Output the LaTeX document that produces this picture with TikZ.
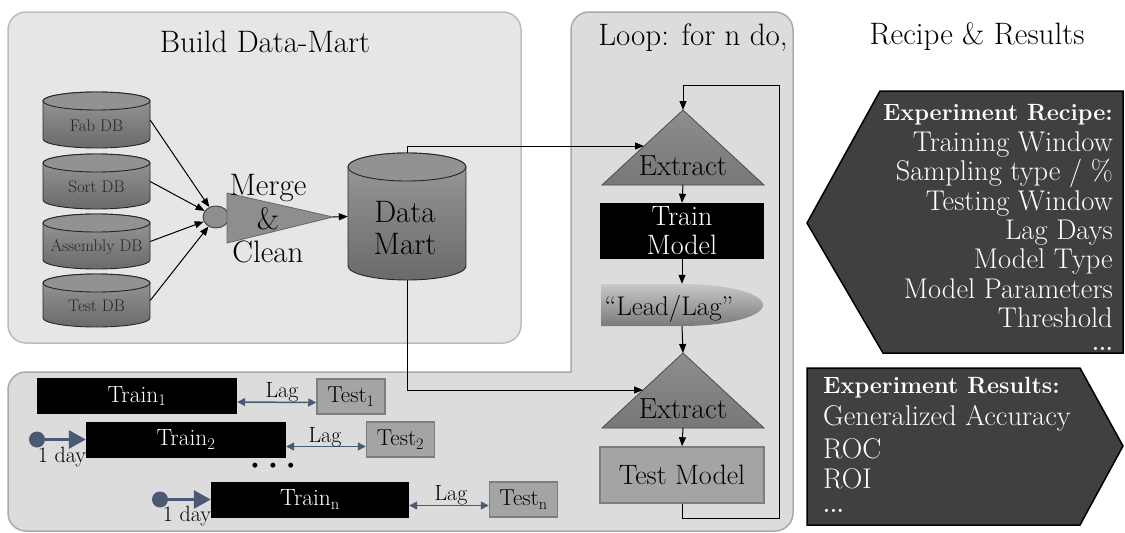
\documentclass[tikz,border=0pt]{standalone}
\usetikzlibrary{arrows.meta,calc,shapes.geometric}

\definecolor{panelA}{HTML}{E6E6E6}
\definecolor{panelAedge}{HTML}{BDBDBD}
\definecolor{panelB}{HTML}{DCDCDC}
\definecolor{panelBedge}{HTML}{AAAAAA}
\definecolor{slate}{HTML}{4B5A74}
\definecolor{darkbox}{HTML}{404040}
\definecolor{testgray}{HTML}{A4A4A4}
\definecolor{testedge}{HTML}{7E7E7E}
\definecolor{cylA}{HTML}{9A9A9A}
\definecolor{cylB}{HTML}{6A6A6A}
\definecolor{cylTop}{HTML}{929292}
\definecolor{triA}{HTML}{8E8E8E}
\definecolor{triB}{HTML}{777777}
\definecolor{leadA}{HTML}{C8C8C8}
\definecolor{leadB}{HTML}{7A7A7A}

\newcommand{\fsz}[2]{\fontsize{#1}{#2}\selectfont}
% database cylinder: name, centre x, top y, bottom y, half width, end radius
\newcommand{\dbcyl}[6]{%
  \path[cylbody] (#2-#5,#3+#6) -- (#2-#5,#4-#6)
    arc[start angle=180,end angle=0,x radius=#5,y radius=#6]
    -- (#2+#5,#3+#6)
    arc[start angle=0,end angle=-180,x radius=#5,y radius=#6] -- cycle;
  \path[cyltop] (#2,#3+#6) ellipse[x radius=#5,y radius=#6];
  \node[inner sep=0,minimum width=2*#5,minimum height=#4-#3] (#1) at (#2,{(#3+#4)/2}) {};
}

\begin{document}
\begin{tikzpicture}[x=1pt,y=-1pt,
  arr/.style={draw=black,line width=1pt,-{Triangle[length=9pt,width=7pt]}},
  cylbody/.style={draw=black!85,line width=0.9pt,top color=cylA,bottom color=cylB},
  cyltop/.style={draw=black!85,line width=0.9pt,fill=cylTop},
  dblabel/.style={inner sep=0,font=\fsz{16.8}{19},text=black!85},
  title/.style={inner sep=0,anchor=base,font=\fsz{31}{35}},
  extri/.style={draw=black!70,line width=0.8pt,top color=triA,bottom color=triB},
  extext/.style={inner sep=0,anchor=base,font=\fsz{29}{32}},
  trainbox/.style={fill=black,text=white,inner sep=0,minimum height=36,font=\fsz{23.5}{26}},
  testbox/.style={fill=testgray,draw=testedge,line width=1.5pt,inner sep=0,
    minimum width=68,minimum height=35,font=\fsz{23}{25}},
  lagarr/.style={draw=slate,line width=1.5pt,
    {Triangle[length=8pt,width=8pt]}-{Triangle[length=8pt,width=8pt]}},
  laglabel/.style={inner sep=0,anchor=base,font=\fsz{22}{24}},
  dayarr/.style={draw=slate,line width=3pt,-{Triangle[length=17pt,width=18pt]}},
  daydot/.style={circle,fill=slate,inner sep=0,minimum size=16},
  daylabel/.style={inner sep=0,anchor=base,font=\fsz{22}{24}},
  darkshape/.style={fill=darkbox,draw=black,line width=1.5pt},
  rtext/.style={inner sep=0,anchor=base east,text=white,font=\fsz{28.5}{31}},
  ltext/.style={inner sep=0,anchor=base west,text=white,font=\fsz{28.5}{31}},
  rhead/.style={inner sep=0,text=white,font=\fsz{23.5}{27}\bfseries},
  rdots/.style={inner sep=0,text=white,font=\fsz{22}{24}\bfseries}
]
\useasboundingbox (0,0) rectangle (1125,533);

% ---------- background panels ----------
\path[fill=panelA,draw=panelAedge,line width=1.5pt,rounded corners=18]
  (8,12) rectangle (521,343);
\path[fill=panelB,draw=panelBedge,line width=1.5pt]
  (571,372) [rounded corners=18] -- (571,12) -- (793,12) -- (793,531)
  -- (8,531) -- (8,372) [sharp corners] -- cycle;

% ---------- titles ----------
\node[title] (tBuild) at (265,52) {Build Data-Mart};
\node[title] (tLoop) at (693,45) {Loop: for n do,};
\node[title] (tRecipe) at (977,44) {Recipe \& Results};

% ---------- source databases ----------
\dbcyl{fab}{96.5}{92}{148}{53.5}{9}
\dbcyl{sort}{96.5}{154}{209}{53.5}{9}
\dbcyl{asm}{96.5}{214}{269}{53.5}{9}
\dbcyl{tdb}{96.5}{274}{327}{53.5}{9}
\node[dblabel] (fab-l) at (96.5,126) {Fab DB};
\node[dblabel] (sort-l) at (96.5,187) {Sort DB};
\node[dblabel] (asm-l) at (96.5,247) {Assembly DB};
\node[dblabel] (tdb-l) at (96.5,306) {Test DB};

% ---------- merge & clean ----------
\node[ellipse,draw=black!75,line width=0.9pt,fill=triA,inner sep=0,
  minimum width=26,minimum height=22] (merge) at (216,217) {};
\path[fill=triA,draw=black!60,line width=0.8pt]
  (227,193) -- (333,217) -- (227,243) -- cycle;
\coordinate (mtip) at (333,217);
\node[inner sep=0,align=center,font=\fsz{31}{33.5}] (mergeText) at (268,219)
  {Merge\\\&\\Clean};
\foreach \s in {fab,sort,asm,tdb}
  \draw[arr] (\s.east) -- (merge);

% ---------- data mart ----------
\dbcyl{dm}{407}{153}{280}{59}{14}
\node[inner sep=0,align=center,font=\fsz{31}{32}] (dm-l) at (405,228.5) {Data\\Mart};
\draw[arr] (mtip) -- (dm.west);

% ---------- loop: extract, train, lead/lag ----------
\coordinate (ex1apex) at (683,110);
\coordinate (ex1left) at (602,185);
\coordinate (ex1right) at (764,185);
\coordinate (ex1base) at (683,185);
\coordinate (ex1hit) at (644,146);
\path[extri] (ex1apex) -- (ex1right) -- (ex1left) -- cycle;
\node[extext] (ex1) at (683,175) {Extract};

\node[fill=black,text=white,inner sep=0,minimum width=164,minimum height=56,
  align=center,font=\fsz{28}{29}] (trm) at (682,231) {Train\\Model};

\path[top color=leadA,bottom color=leadB]
  (601,284) -- (682,284) arc[start angle=-90,end angle=90,x radius=81,y radius=21]
  -- (601,326) -- cycle;
\node[inner sep=0,minimum width=162,minimum height=42] (ll) at (682,305) {};
\node[inner sep=0,anchor=base,font=\fsz{27}{30}] (ll-t) at (669,315) {“Lead/Lag”};

% ---------- loop: extract, test ----------
\coordinate (ex2apex) at (683,353);
\coordinate (ex2left) at (602,428);
\coordinate (ex2right) at (764,428);
\coordinate (ex2base) at (683,428);
\coordinate (ex2hit) at (643,390);
\path[extri] (ex2apex) -- (ex2right) -- (ex2left) -- cycle;
\node[extext] (ex2) at (683,418) {Extract};

\node[fill=testgray,draw=testedge,line width=1.5pt,inner sep=0,minimum width=164,
  minimum height=56,font=\fsz{28}{30}] (tm) at (682,475) {Test Model};

\draw[arr] (ex1base) -- (trm.north);
\draw[arr] (trm.south) -- (ll.north);
\draw[arr] (ll.south) -- (ex2apex);
\draw[arr] (ex2base) -- (tm.north);

% feedback loop
\coordinate (fbA) at (779,518);
\coordinate (fbB) at (779,85);
\draw[arr] (tm.south) |- (fbA) -- (fbB) -| (ex1apex);

% data mart feeds both extract steps
\draw[arr] (dm.north) |- (ex1hit);
\draw[arr] (dm.south) |- (ex2hit);

% ---------- rolling windows ----------
\node[trainbox,minimum width=200] (train1) at (137,396) {Train\textsubscript{1}};
\node[trainbox,minimum width=200] (train2) at (186,439.5) {Train\textsubscript{2}};
\node[trainbox,minimum width=198] (trainn) at (310,499.5) {Train\textsubscript{n}};
\node[testbox] (test1) at (351,396.5) {Test\textsubscript{1}};
\node[testbox] (test2) at (400.5,439.5) {Test\textsubscript{2}};
\node[testbox] (testn) at (523.5,499.5) {Test\textsubscript{n}};

\draw[lagarr] ([yshift=-6pt]train1.east) -- ([yshift=-6pt]test1.west);
\draw[lagarr] ([yshift=-7pt]train2.east) -- ([yshift=-7pt]test2.west);
\draw[lagarr] ([yshift=-6pt]trainn.east) -- ([yshift=-6pt]testn.west);
\node[laglabel] (lag1) at (282,397) {Lag};
\node[laglabel] (lag2) at (325,442) {Lag};
\node[laglabel] (lagn) at (451,500) {Lag};

\node[daydot] (c2) at (37,439.5) {};
\node[daydot] (cn) at (160,499.5) {};
\draw[dayarr] (c2.center) -- (train2.west);
\draw[dayarr] (cn.center) -- (trainn.west);
\node[daylabel] (day2) at (62,462) {1 day};
\node[daylabel] (dayn) at (187,521) {1 day};
\node[inner sep=0,font=\fsz{22}{24}] (dots) at (273,467)
  {\textbullet\hspace{2pt}\textbullet\hspace{2pt}\textbullet};

% ---------- recipe ----------
\path[darkshape] (880,91) -- (1123,91) -- (1123,353) -- (883,353) -- (807,223) -- cycle;
\node[rhead,anchor=base east] (rc0) at (1113,120) {Experiment Recipe:};
\node[rtext] (rc1) at (1113,151) {Training Window};
\node[rtext] (rc2) at (1113,180) {Sampling type / \%};
\node[rtext] (rc3) at (1113,210) {Testing Window};
\node[rtext] (rc4) at (1113,239) {Lag Days};
\node[rtext] (rc5) at (1113,268) {Model Type};
\node[rtext] (rc6) at (1113,298) {Model Parameters};
\node[rtext] (rc7) at (1113,327) {Threshold};
\node[rdots,anchor=base east] (rc8) at (1113,350) {...};

% ---------- results ----------
\path[darkshape] (807,368) -- (1080,368) -- (1123,446) -- (1080,525) -- (807,525) -- cycle;
\node[rhead,anchor=base west] (rs0) at (823,393) {Experiment Results:};
\node[ltext] (rs1) at (823,425) {Generalized Accuracy};
\node[ltext] (rs2) at (823,458) {ROC};
\node[ltext] (rs3) at (823,488) {ROI};
\node[rdots,anchor=base west] (rs4) at (823,512) {...};
\end{tikzpicture}
\end{document}
